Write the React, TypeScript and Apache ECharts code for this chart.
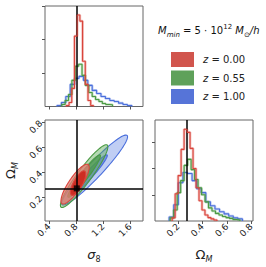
import React, { useEffect, useRef } from "react";
import * as echarts from "echarts";

const FONT = "DejaVu Sans";

const seriesNames = ["z = 0.00", "z = 0.55", "z = 1.00"];
const lineColors = ["#d9453c", "#4a9a43", "#4a6fdc"];
const swatchColors = ["#d1554d", "#5fa15a", "#5674d8"];

// sigma8 histograms (bin start, bin width, heights)
const sigma8BinStart = [0.656, 0.588, 0.5185];
const sigma8BinWidth = [0.04, 0.05, 0.065];
const sigma8HistRed = [0.03, 0.12, 0.54, 2.1, 2.73, 2.55, 1.35, 0.66, 0.18, 0.03];
const sigma8HistGreen = [0.06, 0.18, 0.36, 0.78, 1.2, 1.26, 0.93, 0.63, 0.42, 0.3, 0.21, 0.15, 0.09, 0.06, 0.05];
const sigma8HistBlue = [0.03, 0.12, 0.3, 0.66, 0.84, 0.9, 0.78, 0.63, 0.48, 0.39, 0.3, 0.24, 0.18, 0.15, 0.1, 0.06, 0.03];

// Omega_M histograms
const omegaBinStart = [0.151, 0.135, 0.1265];
const omegaBinWidth = [0.0245, 0.0286, 0.0376];
const omegaHistRed = [0.12, 1.04, 1.73, 2.73, 3.5, 3.38, 2.77, 2.0, 1.27, 0.77, 0.42, 0.23, 0.13, 0.08, 0.04];
const omegaHistGreen = [0.12, 0.42, 1.08, 1.54, 2.12, 2.35, 1.96, 1.58, 1.27, 1.0, 0.73, 0.5, 0.38, 0.29, 0.23, 0.17, 0.13, 0.1, 0.06, 0.04];
const omegaHistBlue = [0.15, 0.62, 1.46, 1.85, 1.81, 1.54, 1.23, 1.08, 0.73, 0.58, 0.46, 0.35, 0.27, 0.19, 0.12, 0.08];

// contours: [centre sigma8, centre OmegaM, major dSigma8, major dOmegaM, minor dSigma8, minor dOmegaM]
const contourRed = [
  [0.785, 0.304, 0.193, 0.156, 0.0801, -0.0288],
  [0.83, 0.312, 0.0963, 0.096, 0.06, -0.0175],
];
const contourGreen = [
  [0.919, 0.368, 0.341, 0.248, 0.0833, -0.0334],
  [0.919, 0.368, 0.237, 0.168, 0.047, -0.0194],
];
const contourBlue = [
  [1.074, 0.416, 0.481, 0.276, 0.0809, -0.0411],
  [0.985, 0.372, 0.274, 0.164, 0.04, -0.0195],
];

const truthSigma8 = 0.81;
const truthOmegaM = 0.27;
const sigma8Ticks = [0.4, 0.8, 1.2, 1.6];
const omegaTicks = [0.2, 0.4, 0.6, 0.8];
const sigma8HistTicks = [1, 2, 3];
const omegaHistTicks = [1, 2, 3];

const contourFills = [
  ["rgba(232,120,112,0.75)", "rgba(205,35,28,0.9)"],
  ["rgba(92,170,84,0.45)", "rgba(74,154,67,0.7)"],
  ["rgba(90,125,225,0.38)", "rgba(70,105,220,0.6)"],
];

function stepData(start: number, width: number, heights: number[]) {
  const pts: number[][] = [[start, 0]];
  heights.forEach((h, i) => pts.push([start + i * width, h]));
  pts.push([start + heights.length * width, 0]);
  return pts;
}

function ellipseRenderer(colorIdx: number) {
  return (params: any, api: any) => {
    const cx = api.value(0), cy = api.value(1);
    const ux = api.value(2), uy = api.value(3);
    const vx = api.value(4), vy = api.value(5);
    const pts: number[][] = [];
    const n = 90;
    for (let k = 0; k < n; k++) {
      const t = (k / n) * Math.PI * 2;
      pts.push(api.coord([cx + Math.cos(t) * ux + Math.sin(t) * vx, cy + Math.cos(t) * uy + Math.sin(t) * vy]));
    }
    return {
      type: "polygon",
      shape: { points: pts },
      style: {
        fill: contourFills[colorIdx][params.dataIndex],
        stroke: lineColors[colorIdx],
        lineWidth: 1.1,
      },
    };
  };
}

const labelStyle = { fontSize: 9, fontFamily: FONT, color: "#222" };
const tickStyle = { color: "#555", width: 1 };
const nameRich = {
  g: { fontSize: 13, fontFamily: FONT, fontStyle: "italic", color: "#222", lineHeight: 18, verticalAlign: "middle" },
  u: { fontSize: 13, fontFamily: FONT, color: "#222", lineHeight: 18, verticalAlign: "middle" },
  s: { fontSize: 8, fontFamily: FONT, color: "#222", lineHeight: 18, verticalAlign: "bottom" },
  si: { fontSize: 8, fontFamily: FONT, fontStyle: "italic", color: "#222", lineHeight: 18, verticalAlign: "bottom" },
};

export default function App() {
  const ref = useRef<HTMLDivElement>(null);
  useEffect(() => {
    const chart = echarts.init(ref.current!, null, { renderer: "svg" });
    const sigHists = [sigma8HistRed, sigma8HistGreen, sigma8HistBlue];
    const omHists = [omegaHistRed, omegaHistGreen, omegaHistBlue];
    const contours = [contourRed, contourGreen, contourBlue];

    const series: any[] = [];
    [2, 1, 0].forEach((i, order) => {
      series.push({
        type: "custom",
        name: seriesNames[i],
        xAxisIndex: 1,
        yAxisIndex: 1,
        z: 1 + order,
        clip: true,
        itemStyle: { color: swatchColors[i] },
        renderItem: ellipseRenderer(i),
        encode: { x: 0, y: 1 },
        data: contours[i],
      });
    });
    [2, 1, 0].forEach((i, order) => {
      const sd = stepData(sigma8BinStart[i], sigma8BinWidth[i], sigHists[i]);
      const od = stepData(omegaBinStart[i], omegaBinWidth[i], omHists[i]);
      [
        [0, sd],
        [2, od],
      ].forEach(([ax, d]: any) => {
        series.push({
          type: "line", step: "end", xAxisIndex: ax, yAxisIndex: ax, data: d, symbol: "none",
          z: 2 + order, silent: true,
          lineStyle: { color: lineColors[i], width: 2.6, opacity: 0.35 },
        });
        series.push({
          type: "line", step: "end", xAxisIndex: ax, yAxisIndex: ax, data: d, symbol: "none",
          z: 3 + order, silent: true,
          lineStyle: { color: lineColors[i], width: 1.1 },
        });
      });
    });
    const ml = (data: any[]) => ({
      silent: true, symbol: "none", label: { show: false },
      lineStyle: { color: "#000", width: 1.5, type: "solid" },
      emphasis: { disabled: true },
      data,
    });
    series.push({ type: "line", xAxisIndex: 0, yAxisIndex: 0, data: [], z: 20, markLine: ml([{ xAxis: truthSigma8 }]) });
    series.push({ type: "line", xAxisIndex: 2, yAxisIndex: 2, data: [], z: 20, markLine: ml([{ xAxis: truthOmegaM }]) });
    series.push({
      type: "scatter", xAxisIndex: 1, yAxisIndex: 1, z: 20, symbol: "rect", symbolSize: 6,
      itemStyle: { color: "#000" }, data: [[truthSigma8, truthOmegaM]],
      markLine: ml([{ xAxis: truthSigma8 }, { yAxis: truthOmegaM }]),
    });

    const grid = (left: number, top: number, height: number) => ({
      left, top, width: 98, height, show: true, borderColor: "#666", borderWidth: 1, backgroundColor: "transparent",
    });

    const xAx = (gridIndex: number, min: number, max: number, ticks: number[], labels: boolean, name?: string) => ({
      type: "value", gridIndex, min, max,
      axisLine: { show: false }, splitLine: { show: false },
      axisTick: { show: true, customValues: ticks, length: 3, lineStyle: tickStyle },
      axisLabel: labels ? { show: true, customValues: ticks, rotate: 45, margin: 4, ...labelStyle } : { show: false },
      name, nameLocation: "middle", nameGap: 24,
      nameTextStyle: { rich: nameRich },
    });

    const option: any = {
      animation: false,
      backgroundColor: "#fff",
      textStyle: { fontFamily: FONT },
      title: {
        text: "{it|M}{si|min}{n| = 5 · 10}{sp|12}{n| }{it|M}{sb|⊙}{it|/h}",
        left: 153, top: 18,
        textStyle: {
          fontSize: 10, fontFamily: FONT, fontWeight: "normal", color: "#111",
          rich: {
            it: { fontSize: 10, fontFamily: FONT, fontStyle: "italic", color: "#111", lineHeight: 15, verticalAlign: "middle" },
            n: { fontSize: 10, fontFamily: FONT, color: "#111", lineHeight: 15, verticalAlign: "middle" },
            si: { fontSize: 7, fontFamily: FONT, fontStyle: "italic", color: "#111", lineHeight: 15, verticalAlign: "bottom" },
            sb: { fontSize: 7, fontFamily: FONT, color: "#111", lineHeight: 15, verticalAlign: "bottom" },
            sp: { fontSize: 7, fontFamily: FONT, color: "#111", lineHeight: 15, verticalAlign: "top" },
          },
        },
      },
      legend: {
        data: seriesNames.map((n, i) => ({ name: n, itemStyle: { color: swatchColors[i], borderWidth: 0 } })),
        orient: "vertical", left: 166, top: 47, itemWidth: 23, itemHeight: 15, itemGap: 3.5, icon: "rect",
        selectedMode: false,
        formatter: (name: string) => "{it|z}{n| = " + name.split("= ")[1] + "}",
        textStyle: {
          fontSize: 10, fontFamily: FONT, color: "#222", padding: [0, 0, 0, 4],
          rich: {
            it: { fontSize: 10, fontFamily: FONT, fontStyle: "italic", color: "#222" },
            n: { fontSize: 10, fontFamily: FONT, color: "#222" },
          },
        },
      },
      grid: [grid(45, 6, 100.5), grid(45, 120, 101), grid(155, 120, 101)],
      xAxis: [
        xAx(0, 0.34, 1.79, sigma8Ticks, false),
        xAx(1, 0.34, 1.79, sigma8Ticks, true, "{g|σ}{s|8}"),
        xAx(2, 0.01, 0.815, omegaTicks, true, "{u|Ω}{si|M}"),
      ],
      yAxis: [
        {
          type: "value", gridIndex: 0, min: 0, max: 3, axisLine: { show: false }, splitLine: { show: false },
          axisTick: { show: true, customValues: sigma8HistTicks, length: 3, lineStyle: tickStyle }, axisLabel: { show: false },
        },
        {
          type: "value", gridIndex: 1, min: 0.01, max: 0.815, axisLine: { show: false }, splitLine: { show: false },
          axisTick: { show: true, customValues: omegaTicks, length: 3, lineStyle: tickStyle },
          axisLabel: { show: true, customValues: omegaTicks, rotate: 45, margin: 4, ...labelStyle },
          name: "{u|Ω}{si|M}", nameLocation: "middle", nameGap: 26, nameTextStyle: { rich: nameRich },
        },
        {
          type: "value", gridIndex: 2, min: 0, max: 3.85, axisLine: { show: false }, splitLine: { show: false },
          axisTick: { show: true, customValues: omegaHistTicks, length: 3, lineStyle: tickStyle }, axisLabel: { show: false },
        },
      ],
      series,
    };
    chart.setOption(option);
    return () => chart.dispose();
  }, []);
  return <div ref={ref} style={{ position: "fixed", left: 0, top: 0, width: 266, height: 267 }} />;
}
